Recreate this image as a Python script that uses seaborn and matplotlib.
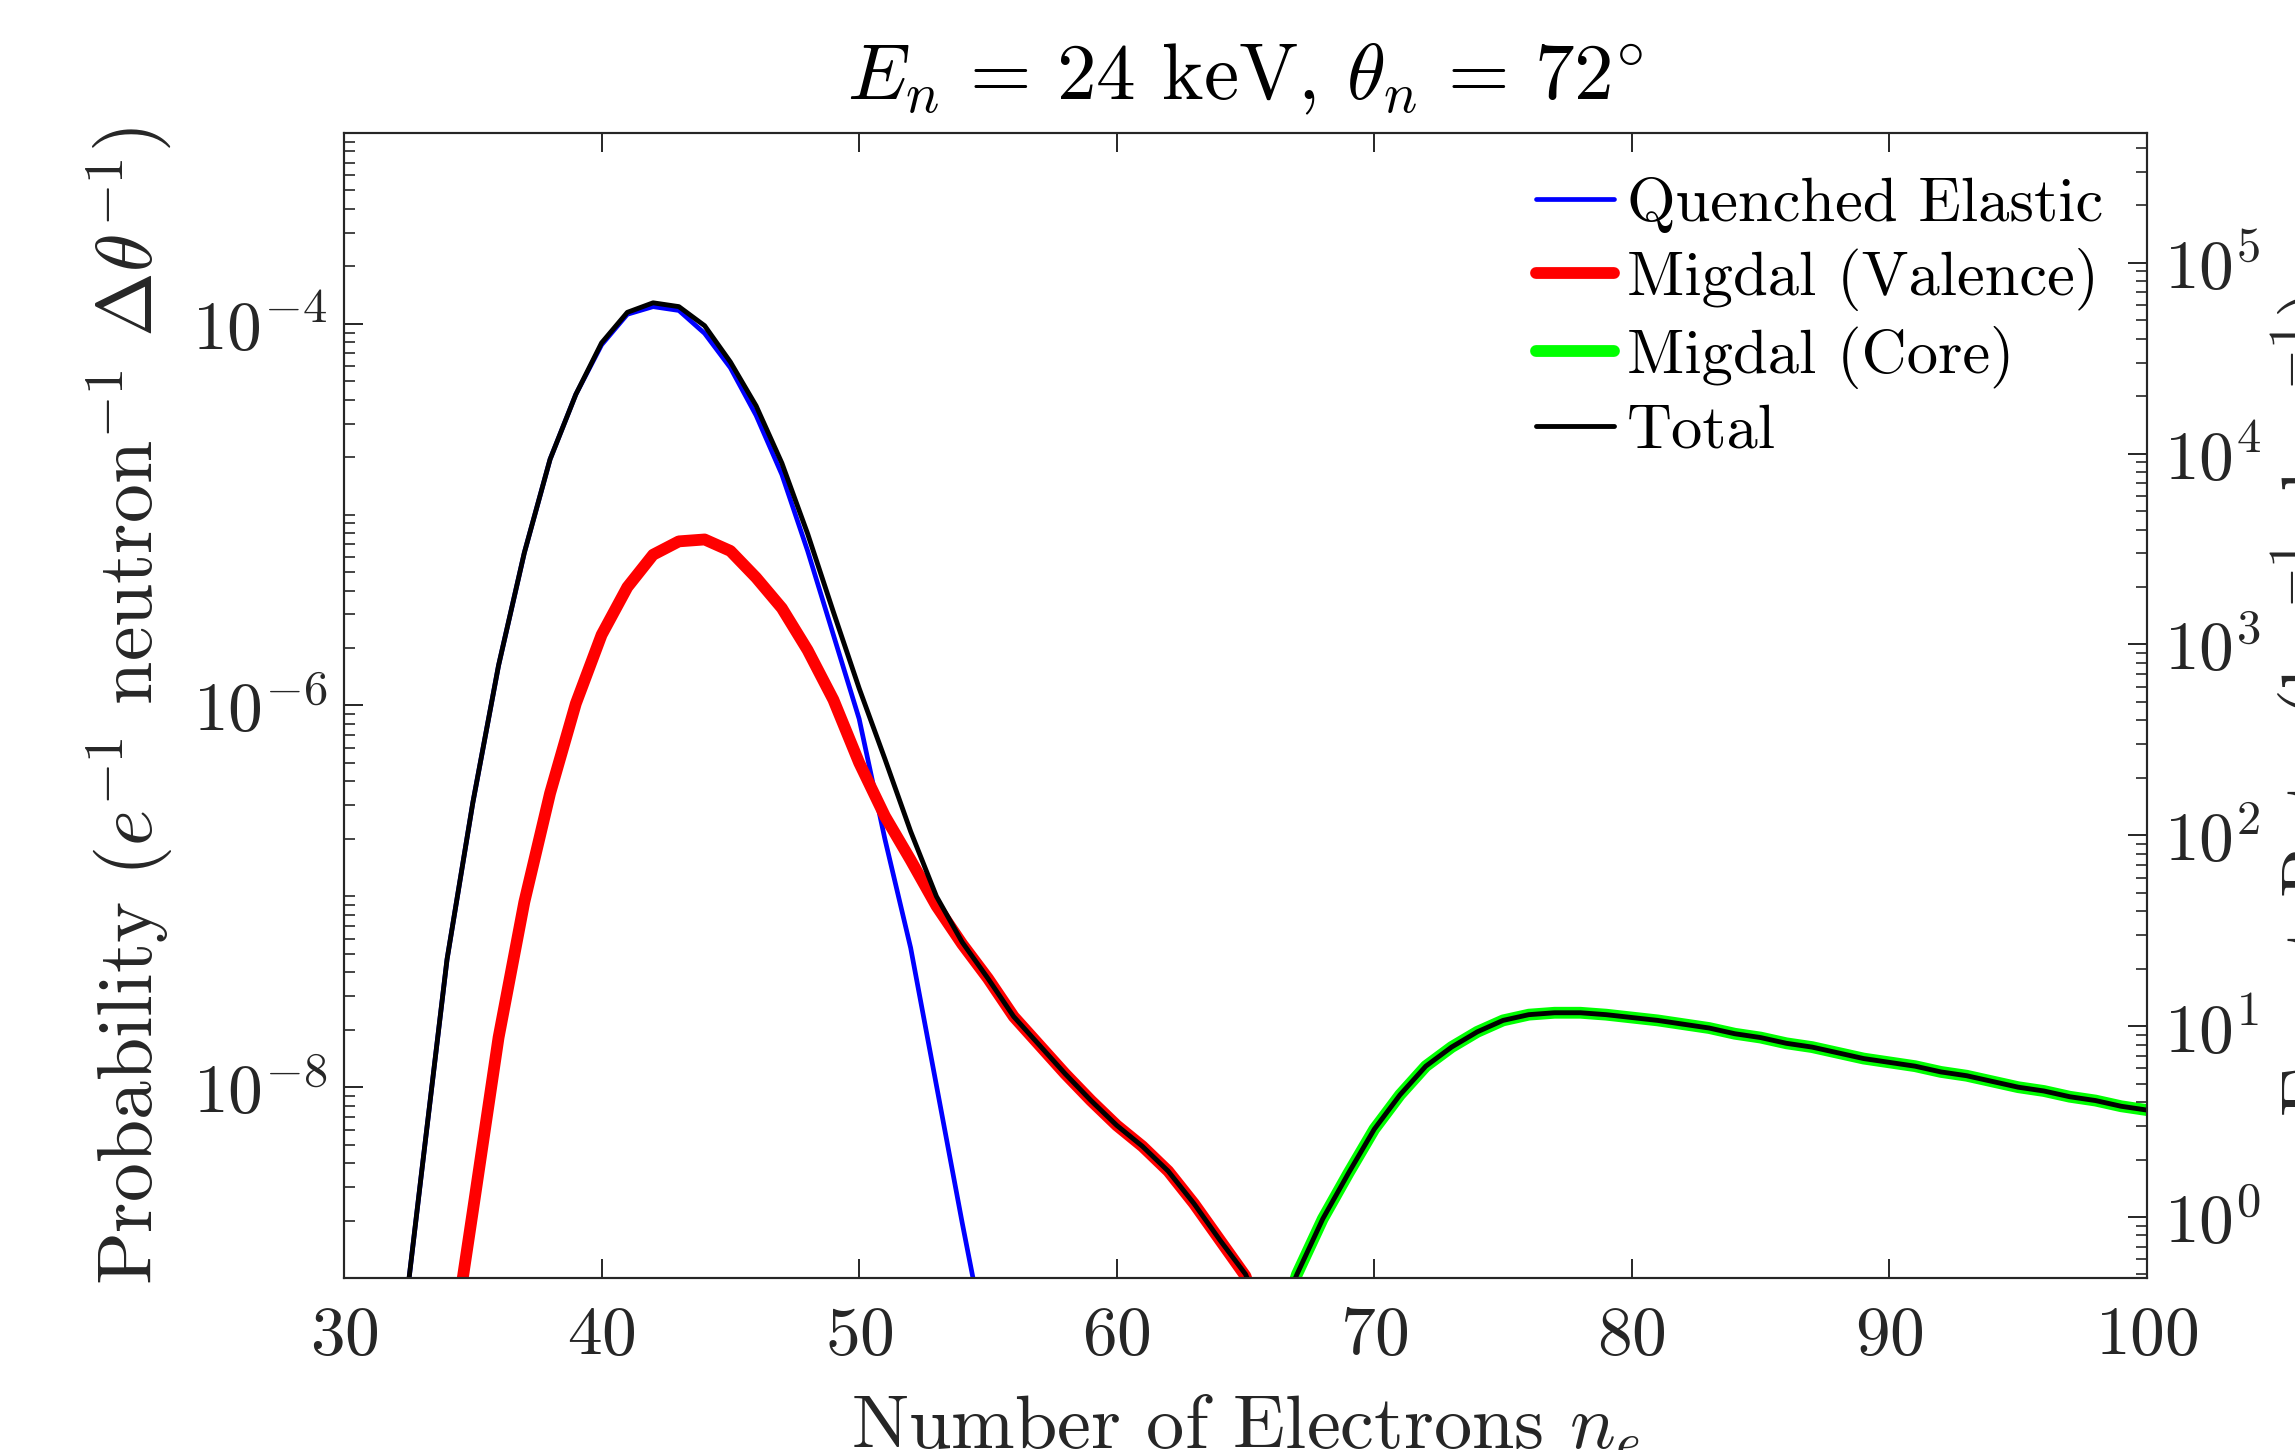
import numpy as np
import pandas as pd
import matplotlib
matplotlib.use("Agg")
import matplotlib.pyplot as plt
import seaborn as sns
from matplotlib.ticker import FixedLocator, FuncFormatter, LogLocator, NullFormatter

# ---------------- data (log10 of probability) ----------------
n_quenched = list(range(32, 56))
log_quenched = [-9.6, -8.46, -7.33, -6.51, -5.79, -5.20, -4.71, -4.37, -4.11, -3.95,
                -3.91, -3.93, -4.05, -4.23, -4.48, -4.79, -5.19, -5.63, -6.07, -6.70,
                -7.27, -7.99, -8.71, -9.4]

n_valence = list(range(34, 67))
log_valence = [-9.55, -8.65, -7.74, -7.03, -6.46, -5.99, -5.63, -5.38, -5.21, -5.14,
               -5.13, -5.19, -5.33, -5.49, -5.71, -5.97, -6.30, -6.58, -6.81, -7.05,
               -7.25, -7.43, -7.63, -7.78, -7.93, -8.07, -8.20, -8.31, -8.44, -8.61,
               -8.80, -8.99, -9.4]

n_core = list(range(66, 101))
log_core = [-9.4, -8.98, -8.69, -8.45, -8.22, -8.04, -7.89, -7.79, -7.71, -7.65,
            -7.62, -7.61, -7.61, -7.62, -7.635, -7.65, -7.67, -7.69, -7.72, -7.74,
            -7.77, -7.79, -7.82, -7.85, -7.87, -7.89, -7.92, -7.94, -7.97, -8.00,
            -8.02, -8.05, -8.07, -8.10, -8.12]

n_total = list(range(32, 101))
log_total = [-9.6, -8.46, -7.33, -6.51, -5.79, -5.20, -4.71, -4.37, -4.10, -3.94,
             -3.89, -3.91, -4.01, -4.20, -4.43, -4.73, -5.10, -5.51, -5.91, -6.28,
             -6.66, -7.00, -7.24, -7.43, -7.63, -7.78, -7.93, -8.07, -8.20, -8.31,
             -8.44, -8.61, -8.80, -8.98, -9.3, -8.98, -8.69, -8.45, -8.22, -8.04,
             -7.89, -7.79, -7.71, -7.65, -7.62, -7.61, -7.61, -7.62, -7.635, -7.65,
             -7.67, -7.69, -7.72, -7.74, -7.77, -7.79, -7.82, -7.85, -7.87, -7.89,
             -7.92, -7.94, -7.97, -8.00, -8.02, -8.05, -8.07, -8.10, -8.12]

series_names = ["Quenched Elastic", "Migdal (Valence)", "Migdal (Core)", "Total"]
x_ticks = [30, 40, 50, 60, 70, 80, 90, 100]
left_major = [1e-8, 1e-6, 1e-4]
right_major = [1e0, 1e1, 1e2, 1e3, 1e4, 1e5]

title_text = r"$E_n\,=\,24$ keV, $\theta_n\,=\,72^{\circ}$"
xlabel_text = r"Number of Electrons $n_e$"
ylabel_text = r"Probability ($e^{-1}$ neutron$^{-1}$ $\Delta\theta^{-1}$)"
y2label_text = r"Event Rate (kg$^{-1}$ day$^{-1}$)"

# ---------------- style ----------------
sns.set_theme(style="ticks")
plt.rcParams.update({
    "font.family": "serif",
    "font.serif": ["cmr10", "DejaVu Serif"],
    "mathtext.fontset": "cm",
    "axes.unicode_minus": False,
    "axes.formatter.use_mathtext": True,
    "axes.edgecolor": "#262626",
    "axes.linewidth": 1.5,
    "xtick.color": "#262626",
    "ytick.color": "#262626",
    "text.color": "black",
})

fig = plt.figure(figsize=(22.95, 14.5), dpi=100)
ax = fig.add_axes([0.1499, 0.1186, 0.7856, 0.7897])

def frame(n, logs, name):
    return pd.DataFrame({"n": n, "p": np.power(10.0, logs), "series": name})

df_q = frame(n_quenched, log_quenched, series_names[0])
df_v = frame(n_valence, log_valence, series_names[1])
df_c = frame(n_core, log_core, series_names[2])
df_t = frame(n_total, log_total, series_names[3])

styles = [
    (df_q, "#0000FF", 3.4),
    (df_v, "#FF0000", 8.5),
    (df_c, "#00FF00", 8.5),
    (df_t, "#000000", 3.5),
]
for d, col, lw in styles:
    sns.lineplot(data=d, x="n", y="p", ax=ax, color=col, linewidth=lw,
                 label=d["series"].iloc[0], estimator=None, sort=False,
                 solid_joinstyle="round")

ax.set_yscale("log")
ax.set_xlim(30, 100)
ax.set_ylim(1e-9, 1e-3)
ax.xaxis.set_major_locator(FixedLocator(x_ticks))
ax.yaxis.set_major_locator(FixedLocator(left_major))
ax.yaxis.set_minor_locator(LogLocator(base=10, subs=np.arange(1, 10), numticks=50))
ax.yaxis.set_minor_formatter(NullFormatter())
ax.yaxis.set_major_formatter(FuncFormatter(lambda v, p: r"$10^{%d}$" % round(np.log10(v))))

ax.tick_params(axis="both", which="major", direction="in", length=14, width=1.4,
               labelsize=50, top=True, right=False)
ax.tick_params(axis="both", which="minor", direction="in", length=8, width=1.2,
               top=False, right=False)
ax.tick_params(axis="x", pad=20)
ax.tick_params(axis="y", pad=12)

ax.set_title(title_text, fontsize=57, pad=24)
ax.set_xlabel(xlabel_text, fontsize=55)
ax.set_ylabel(ylabel_text, fontsize=56)
ax.xaxis.set_label_coords(0.5, -0.1)
ax.yaxis.set_label_coords(-0.093, 0.5)

handles, labels = ax.get_legend_handles_labels()
ax.legend(handles, labels, loc="upper right", frameon=False, fontsize=45,
          handlelength=1.25, handletextpad=0.2, labelspacing=0.24,
          borderaxespad=0.3)

# right-hand axis
ax2 = ax.twinx()
ax2.set_yscale("log")
ax2.set_ylim(10 ** -0.32, 10 ** 5.68)
ax2.yaxis.set_major_locator(FixedLocator(right_major))
ax2.yaxis.set_minor_locator(LogLocator(base=10, subs=np.arange(2, 10), numticks=50))
ax2.yaxis.set_minor_formatter(NullFormatter())
ax2.yaxis.set_major_formatter(FuncFormatter(lambda v, p: r"$10^{%d}$" % round(np.log10(v))))
ax2.tick_params(axis="y", which="major", direction="in", length=14, width=1.4,
                labelsize=50, pad=12, left=False)
ax2.tick_params(axis="y", which="minor", direction="in", length=8, width=1.2, left=False)
ax2.set_ylabel(y2label_text, fontsize=54)
ax2.yaxis.set_label_coords(1.068, 0.5)

fig.savefig("out.png", dpi=100)
